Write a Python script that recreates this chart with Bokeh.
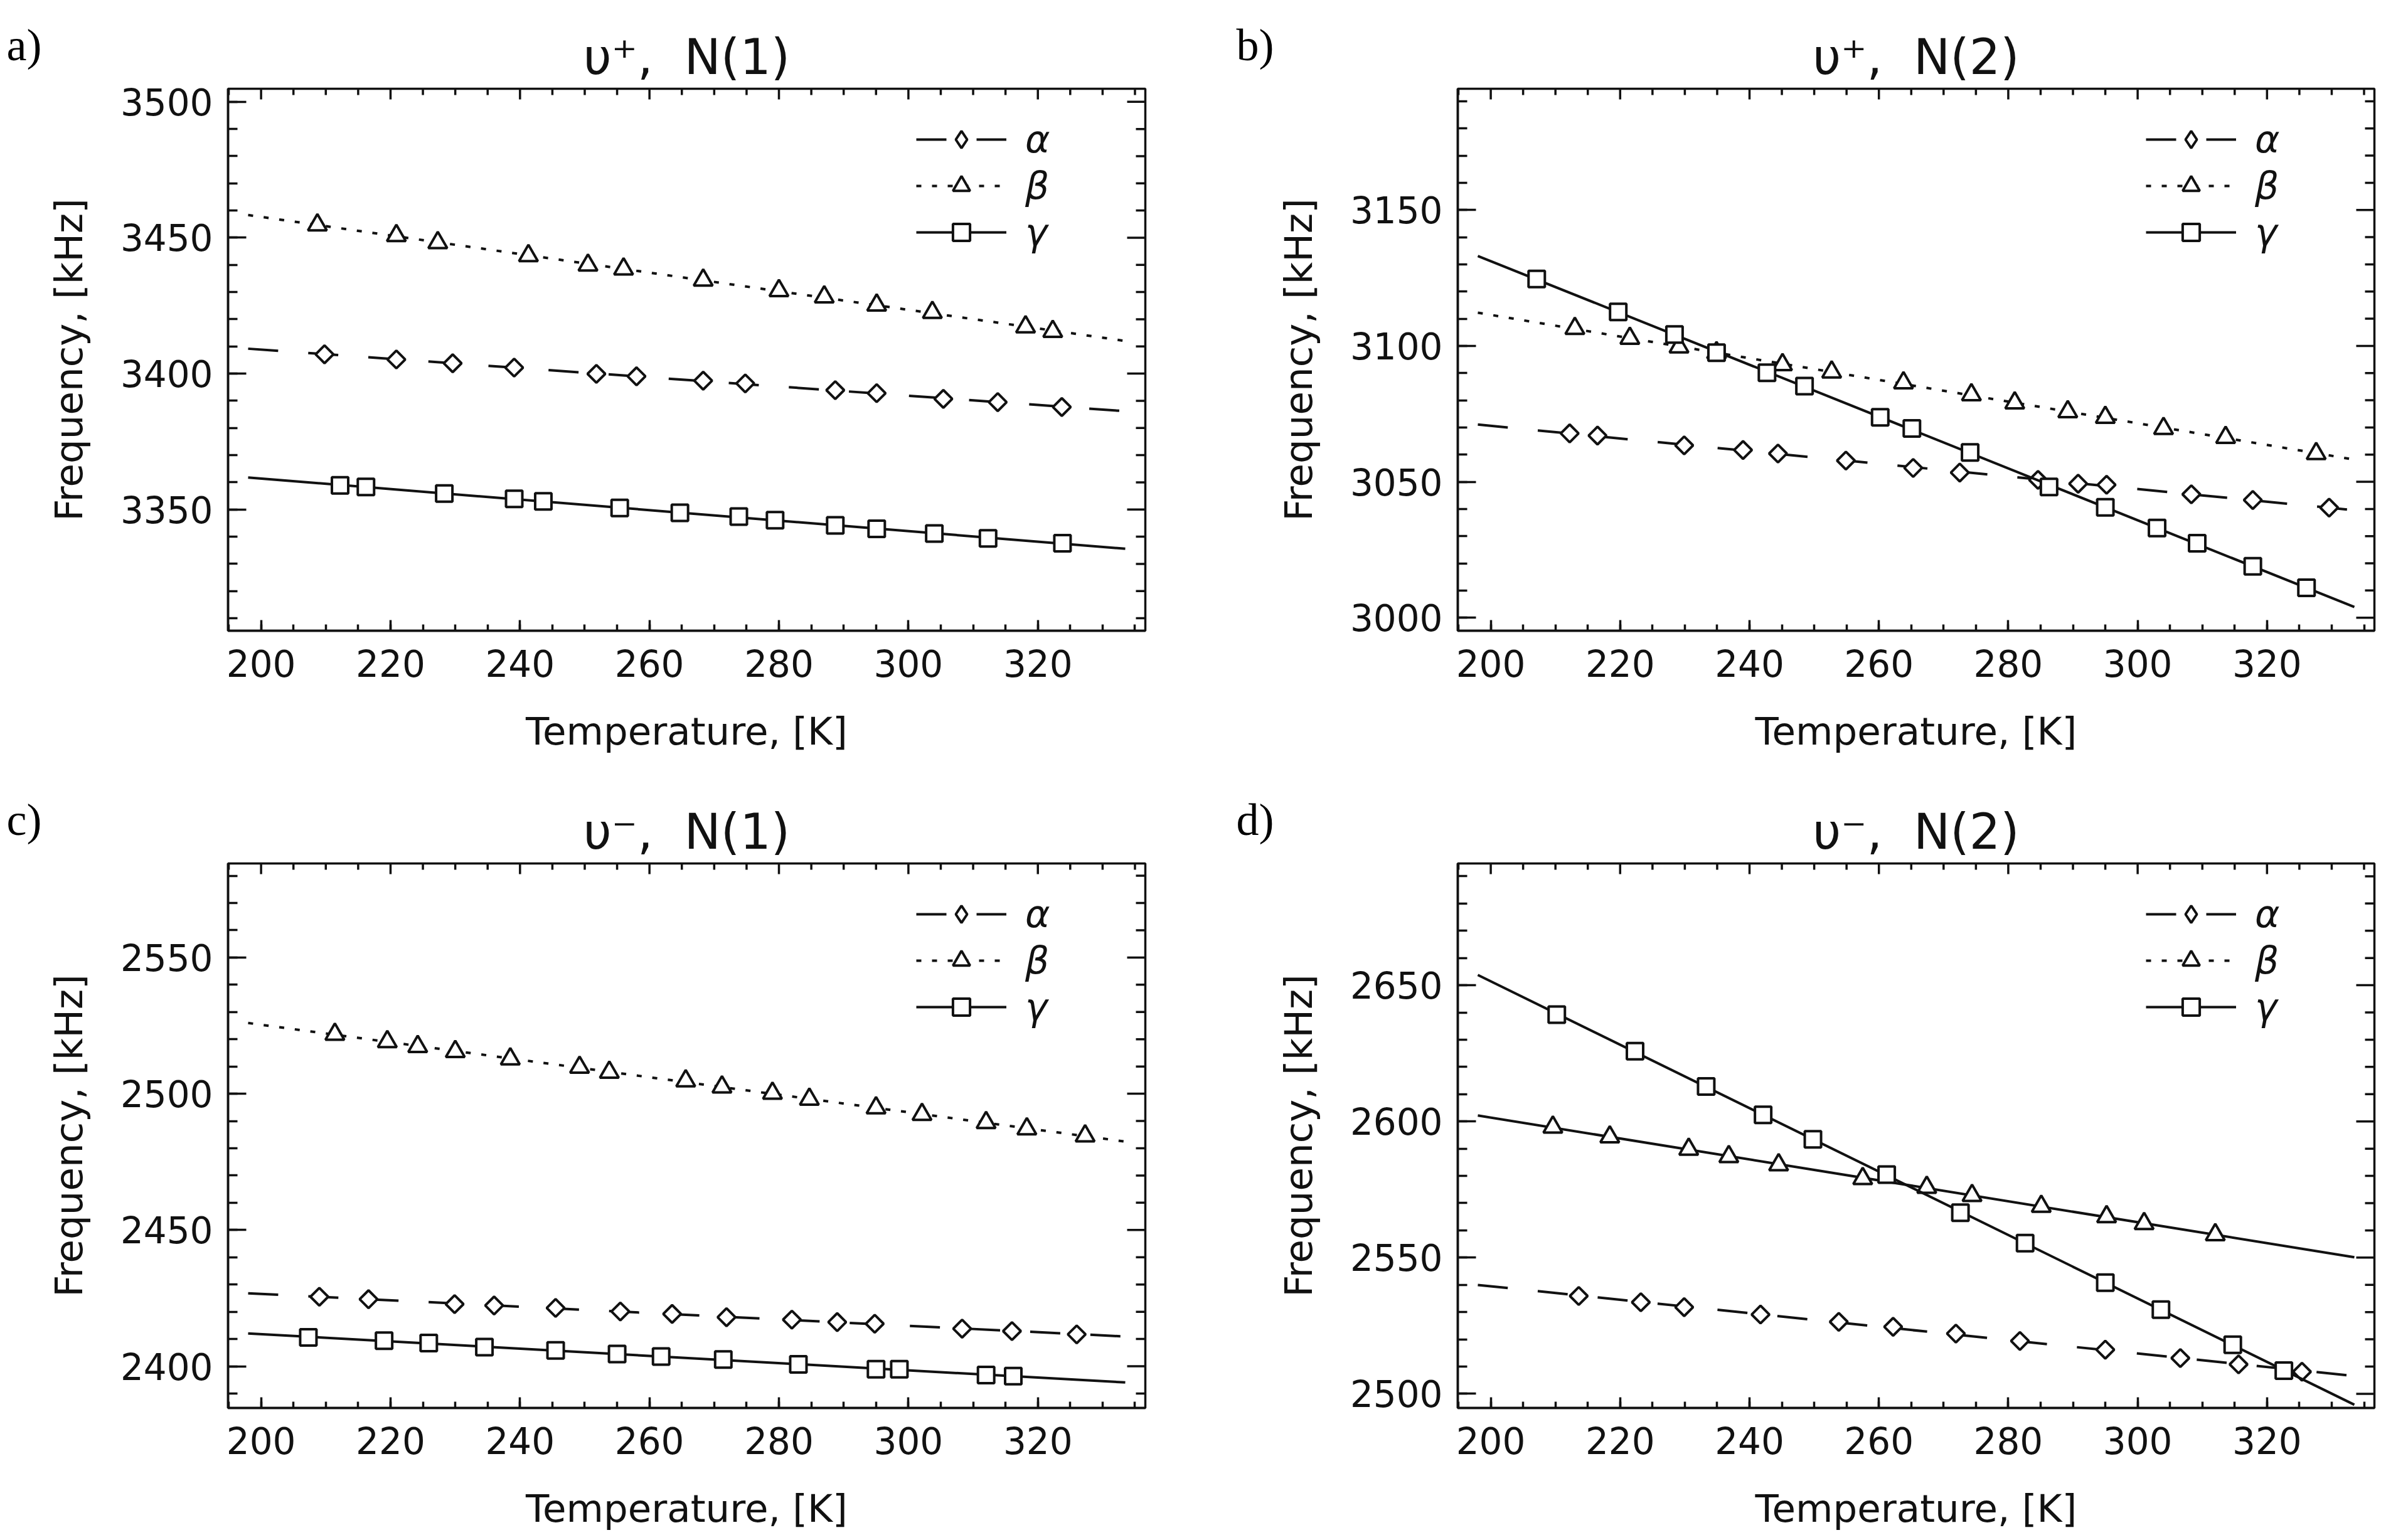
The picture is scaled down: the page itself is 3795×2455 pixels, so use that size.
import numpy as np
from bokeh.plotting import figure
from bokeh.layouts import gridplot
from bokeh.models import (Range1d, SingleIntervalTicker, Legend, LegendItem)
from bokeh.embed import file_html
from bokeh.resources import INLINE

# ---------------- data ----------------
x_range_K = [194.9, 336.6]
fit_T = [198.0, 333.5]
x_major, x_minor = 20, 5
y_major, y_minor = 50, 10

titles = ["\u03c5\u207a,\u00a0 N(1)", "\u03c5\u207a,\u00a0 N(2)",
          "\u03c5\u207b,\u00a0 N(1)", "\u03c5\u207b,\u00a0 N(2)"]
letters = ["a)", "b)", "c)", "d)"]
series_names = ["\u03b1", "\u03b2", "\u03b3"]

a_y_range = [3305.4, 3504.8]
b_y_range = [2995.2, 3194.6]
c_y_range = [2384.7, 2584.5]
d_y_range = [2494.8, 2694.7]

a_alpha_T = [209.8, 220.9, 229.6, 239.1, 251.8, 258.0, 268.3, 274.8, 288.7, 295.1, 305.4, 313.8, 323.7]
a_alpha_F = [3407.1, 3405.2, 3403.8, 3402.2, 3399.9, 3399.0, 3397.4, 3396.4, 3393.9, 3392.8, 3390.7, 3389.5, 3387.7]
a_beta_T = [208.7, 220.9, 227.3, 241.3, 250.5, 256.0, 268.3, 280.0, 287.0, 295.1, 303.7, 318.1, 322.3]
a_beta_F = [3454.7, 3450.8, 3448.2, 3443.4, 3439.9, 3438.5, 3434.4, 3430.5, 3428.2, 3425.2, 3422.5, 3417.2, 3415.5]
a_gamma_T = [212.2, 216.2, 228.3, 239.1, 243.6, 255.4, 264.7, 273.8, 279.4, 288.7, 295.1, 304.0, 312.3, 323.8]
a_gamma_F = [3358.9, 3358.3, 3355.9, 3353.9, 3353.0, 3350.6, 3348.8, 3347.4, 3346.1, 3344.2, 3342.9, 3341.2, 3339.4, 3337.6]

b_alpha_T = [212.2, 216.5, 229.9, 239.0, 244.4, 254.9, 265.3, 272.5, 284.6, 290.8, 295.2, 308.3, 317.8, 329.6]
b_alpha_F = [3067.8, 3067.0, 3063.4, 3061.7, 3060.4, 3057.8, 3055.1, 3053.4, 3050.7, 3049.3, 3048.9, 3045.4, 3043.3, 3040.5]
b_beta_T = [213.0, 221.5, 229.1, 234.9, 245.1, 252.7, 263.8, 274.3, 281.0, 289.2, 295.0, 304.0, 313.6, 327.6]
b_beta_F = [3106.4, 3102.8, 3099.6, 3097.5, 3093.1, 3090.4, 3086.4, 3082.0, 3079.0, 3075.8, 3073.7, 3069.6, 3066.3, 3060.4]
b_gamma_T = [207.1, 219.7, 228.4, 234.9, 242.7, 248.5, 260.2, 265.1, 274.1, 286.3, 295.0, 303.0, 309.2, 317.8, 326.1]
b_gamma_F = [3124.6, 3112.5, 3104.2, 3097.5, 3090.1, 3085.2, 3073.7, 3069.6, 3060.8, 3048.1, 3040.6, 3033.0, 3027.4, 3018.9, 3011.0]

c_alpha_T = [209.0, 216.6, 229.9, 236.0, 245.5, 255.5, 263.5, 271.9, 282.0, 289.0, 294.8, 308.3, 316.0, 326.0]
c_alpha_F = [2425.5, 2424.6, 2422.8, 2422.3, 2421.4, 2420.1, 2419.2, 2418.0, 2417.1, 2416.2, 2415.6, 2413.8, 2412.9, 2411.7]
c_beta_T = [211.4, 219.5, 224.2, 230.0, 238.5, 249.2, 253.8, 265.6, 271.2, 279.0, 284.7, 295.0, 302.1, 312.0, 318.3, 327.3]
c_beta_F = [2521.8, 2519.1, 2517.3, 2515.5, 2512.8, 2509.7, 2507.9, 2504.7, 2502.5, 2500.2, 2498.0, 2494.8, 2492.4, 2489.4, 2487.1, 2484.5]
c_gamma_T = [207.3, 219.0, 225.9, 234.5, 245.5, 255.0, 261.8, 271.4, 283.0, 295.0, 298.6, 312.0, 316.2]
c_gamma_F = [2410.6, 2409.4, 2408.5, 2407.0, 2405.8, 2404.5, 2403.6, 2402.5, 2400.7, 2398.9, 2398.9, 2396.8, 2396.4]

d_alpha_T = [213.6, 223.2, 229.9, 241.7, 253.8, 262.2, 271.9, 281.8, 295.0, 306.6, 315.6, 325.4]
d_alpha_F = [2535.9, 2533.6, 2531.8, 2529.1, 2526.4, 2524.6, 2522.1, 2519.4, 2516.2, 2513.1, 2510.8, 2508.1]
d_beta_T = [209.6, 218.4, 230.6, 236.8, 244.5, 257.5, 267.4, 274.4, 285.1, 295.2, 301.0, 312.0]
d_beta_F = [2597.9, 2594.3, 2589.8, 2587.1, 2584.1, 2579.0, 2575.8, 2572.8, 2568.8, 2565.0, 2562.5, 2558.4]
d_gamma_T = [210.2, 222.3, 233.3, 242.1, 249.8, 261.2, 272.6, 282.6, 295.0, 303.6, 314.7, 322.6]
d_gamma_F = [2639.2, 2625.8, 2612.8, 2602.4, 2593.4, 2580.5, 2566.5, 2555.3, 2540.8, 2530.9, 2518.0, 2508.5]

# ---------------- styling ----------------
FONT = "DejaVu Sans"
INK = "#111111"
LW_LINE = 4
LW_MARK = 4
LW_AX = 3.5
DASH = {"alpha": "48 48", "beta": "8 17", "gamma": "solid"}

LETTER_W = 70
FW = [1462, 1461]
FH = [864, 868]
BORDER_L = 283
BORDER_T = 141
BORDER_R = [135, 20]
BORDER_B = [230, 200]
NAN2 = [float("nan"), float("nan")]
X_TICK_IN = (17, 10)
Y_TICK_IN = (29, 15)


def tick_values(lo, hi, step):
    start = np.ceil(lo / step) * step
    return np.arange(start, hi + 1e-9, step)


def make_panel(idx, y_range, data, plot_dash):
    row, col = divmod(idx, 2)
    fw, fh = FW[col], FH[row]
    p = figure(frame_width=fw, frame_height=fh,
               x_range=Range1d(*x_range_K), y_range=Range1d(*y_range),
               output_backend="svg", toolbar_location=None,
               min_border_left=BORDER_L, min_border_right=BORDER_R[col],
               min_border_top=BORDER_T, min_border_bottom=BORDER_B[row],
               title=titles[idx])
    p.background_fill_color = "white"
    p.border_fill_color = "white"
    p.outline_line_color = INK
    p.outline_line_width = LW_AX
    p.xgrid.visible = False
    p.ygrid.visible = False

    p.title.text_font = FONT
    p.title.text_font_size = "78px"
    p.title.text_font_style = "normal"
    p.title.text_color = INK
    p.title.align = "center"
    p.title.standoff = 12
    p.title.offset = -20

    for ax, is_x in ((p.xaxis[0], True), (p.yaxis[0], False)):
        ax.ticker = SingleIntervalTicker(interval=x_major if is_x else y_major,
                                         num_minor_ticks=(x_major // x_minor) if is_x
                                         else (y_major // y_minor))
        ax.axis_line_color = INK
        ax.axis_line_width = LW_AX
        ax.major_tick_line_color = INK
        ax.minor_tick_line_color = INK
        ax.major_tick_line_width = LW_AX
        ax.minor_tick_line_width = LW_AX
        ax.major_tick_out = 0
        ax.minor_tick_out = 0
        ax.major_tick_in = X_TICK_IN[0] if is_x else Y_TICK_IN[0]
        ax.minor_tick_in = X_TICK_IN[1] if is_x else Y_TICK_IN[1]
        ax.major_label_text_font = FONT
        ax.major_label_text_font_size = "58px"
        ax.major_label_text_color = INK
        ax.axis_label_text_font = FONT
        ax.axis_label_text_font_size = "61px"
        ax.axis_label_text_font_style = "normal"
        ax.axis_label_text_color = INK

    xa = p.xaxis[0]
    ya = p.yaxis[0]
    xa.axis_label = "Temperature, [K]"
    ya.axis_label = "Frequency, [kHz]"
    xa.major_label_standoff = 30
    xa.axis_label_standoff = 48
    ya.major_label_standoff = 24
    ya.axis_label_standoff = 44

    # mirrored tick marks on the top and right edges (half of each dash is
    # clipped away by the frame, leaving an inward tick)
    xt = tick_values(x_range_K[0], x_range_K[1], x_minor)
    xmaj = np.isclose(np.mod(xt, x_major), 0) | np.isclose(np.mod(xt, x_major), x_major)
    yt = tick_values(y_range[0], y_range[1], y_minor)
    ymaj = np.isclose(np.mod(yt, y_major), 0) | np.isclose(np.mod(yt, y_major), y_major)
    p.scatter(x=xt, y=np.full(len(xt), y_range[1]), marker="dash", angle=np.pi / 2,
              size=np.where(xmaj, 2 * X_TICK_IN[0], 2 * X_TICK_IN[1]),
              line_color=INK, line_width=LW_AX)
    p.scatter(x=np.full(len(yt), x_range_K[1]), y=yt, marker="dash",
              size=np.where(ymaj, 2 * Y_TICK_IN[0], 2 * Y_TICK_IN[1]),
              line_color=INK, line_width=LW_AX)

    items = []
    fit_x = np.array(fit_T)
    for key, name in zip(["alpha", "beta", "gamma"], series_names):
        T, F = data[key]
        k, b = np.polyfit(np.array(T), np.array(F), 1)
        line = p.line(x=fit_x, y=k * fit_x + b, line_color=INK, line_width=LW_LINE,
                      line_dash=plot_dash[key])
        if key == "alpha":
            pts = p.scatter(x=T, y=F, marker="square", angle=np.pi / 4, size=20,
                            fill_color="white", line_color=INK, line_width=LW_MARK)
            leg_pts = p.scatter(x=NAN2, y=NAN2, marker="diamond", size=30,
                                fill_color="white", line_color=INK, line_width=LW_MARK)
        else:
            pts = p.scatter(x=T, y=F, marker="triangle" if key == "beta" else "square",
                            size=30 if key == "beta" else 26,
                            fill_color="white", line_color=INK, line_width=LW_MARK)
            leg_pts = pts
        if plot_dash[key] != DASH[key]:
            leg_line = p.line(x=NAN2, y=NAN2, line_color=INK, line_width=LW_LINE,
                              line_dash=DASH[key])
        else:
            leg_line = line
        items.append(LegendItem(label=name, renderers=[leg_line, leg_pts]))

    leg_h = 3 * 68 + 2 * 4
    legend = Legend(items=items, location=(1097, fh - 52 - leg_h),
                    glyph_width=144, glyph_height=68, label_height=68,
                    label_standoff=30, spacing=4, padding=0, margin=0,
                    background_fill_alpha=0.0, border_line_alpha=0.0,
                    label_text_font=FONT, label_text_font_style="italic",
                    label_text_font_size="60px", label_text_color=INK)
    p.add_layout(legend)
    return p


def make_letter(idx):
    # narrow companion figure whose title carries the panel letter
    row = idx // 2
    f = figure(frame_width=LETTER_W, frame_height=FH[row],
               x_range=Range1d(0, 1), y_range=Range1d(0, 1),
               output_backend="svg", toolbar_location=None,
               min_border_left=0, min_border_right=0,
               min_border_top=BORDER_T, min_border_bottom=BORDER_B[row],
               x_axis_location=None, y_axis_location=None, title=letters[idx])
    f.outline_line_color = None
    f.xgrid.visible = False
    f.ygrid.visible = False
    f.background_fill_color = "white"
    f.border_fill_color = "white"
    f.title.text_font = "Liberation Serif"
    f.title.text_font_size = "72px"
    f.title.text_font_style = "normal"
    f.title.text_color = "black"
    f.title.align = "left"
    f.title.offset = 10
    f.title.standoff = 59
    return f


pa = make_panel(0, a_y_range,
                {"alpha": (a_alpha_T, a_alpha_F), "beta": (a_beta_T, a_beta_F),
                 "gamma": (a_gamma_T, a_gamma_F)}, DASH)
pb = make_panel(1, b_y_range,
                {"alpha": (b_alpha_T, b_alpha_F), "beta": (b_beta_T, b_beta_F),
                 "gamma": (b_gamma_T, b_gamma_F)}, DASH)
pc = make_panel(2, c_y_range,
                {"alpha": (c_alpha_T, c_alpha_F), "beta": (c_beta_T, c_beta_F),
                 "gamma": (c_gamma_T, c_gamma_F)}, DASH)
pd = make_panel(3, d_y_range,
                {"alpha": (d_alpha_T, d_alpha_F), "beta": (d_beta_T, d_beta_F),
                 "gamma": (d_gamma_T, d_gamma_F)},
                {"alpha": DASH["alpha"], "beta": "solid", "gamma": "solid"})

grid = gridplot([[make_letter(0), pa, make_letter(1), pb],
                 [make_letter(2), pc, make_letter(3), pd]],
                toolbar_location=None)

open("out.html", "w").write(file_html(grid, INLINE))
